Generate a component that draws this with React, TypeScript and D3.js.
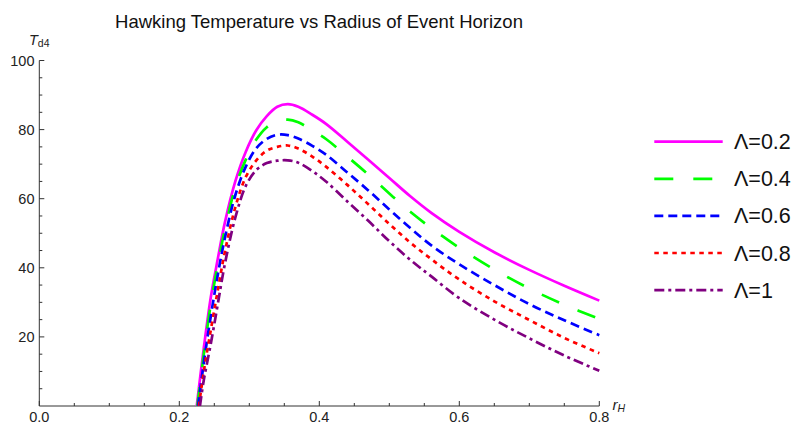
import React from "react";
import * as d3 from "d3";

// ---------- data ----------
const rGrid = [0.235, 0.245, 0.255, 0.265, 0.28, 0.295, 0.31, 0.325, 0.34, 0.355, 0.37, 0.39, 0.41, 0.44, 0.47, 0.5, 0.53, 0.56, 0.6, 0.65, 0.7, 0.75, 0.8];
const lambdaLabels = ["Λ=0.2", "Λ=0.4", "Λ=0.6", "Λ=0.8", "Λ=1"];
const horizonRoots = [0.2249, 0.2258, 0.2268, 0.228, 0.2295];
const tLambda02 = [16.8, 31.5, 42.6, 53.0, 65.0, 73.6, 79.8, 83.9, 86.6, 87.35, 86.6, 84.3, 81.6, 76.5, 71.3, 66.0, 60.7, 55.9, 50.4, 44.5, 39.4, 34.8, 30.5];
const tLambda04 = [15.0, 29.5, 41.0, 51.0, 63.3, 71.3, 77.1, 80.7, 82.5, 82.9, 82.1, 79.8, 77.2, 72.2, 67.0, 61.5, 56.2, 51.5, 45.8, 39.5, 34.0, 29.3, 25.2];
const tLambda06 = [12.5, 26.0, 38.0, 48.5, 61.0, 69.3, 74.6, 77.3, 78.5, 78.4, 77.4, 75.3, 72.7, 67.6, 62.4, 56.9, 51.5, 46.5, 41.0, 35.0, 29.5, 24.8, 20.5];
const tLambda08 = [10.0, 22.0, 33.5, 44.5, 57.5, 66.3, 71.1, 73.9, 75.0, 75.4, 74.5, 72.2, 69.2, 64.0, 58.4, 52.7, 47.3, 42.5, 36.6, 30.3, 24.9, 19.7, 15.3];
const tLambda10 = [7.5, 18.0, 29.5, 41.0, 54.5, 63.7, 68.3, 70.3, 71.0, 71.1, 70.4, 68.0, 64.9, 59.2, 53.6, 47.7, 42.3, 37.5, 31.2, 25.0, 19.6, 14.6, 10.2];
const seriesValues = [tLambda02, tLambda04, tLambda06, tLambda08, tLambda10];

const xTicks = [0, 0.2, 0.4, 0.6, 0.8];
const xTickLabels = ["0.0", "0.2", "0.4", "0.6", "0.8"];
const xMinorTicks = [0.05, 0.1, 0.15, 0.25, 0.3, 0.35, 0.45, 0.5, 0.55, 0.65, 0.7, 0.75];
const yTicks = [20, 40, 60, 80, 100];
const yMinorTicks = [5, 10, 15, 25, 30, 35, 45, 50, 55, 65, 70, 75, 85, 90, 95];

// ---------- styles ----------
const colors = ["#ff00ff", "#00ff00", "#0000ff", "#ff0000", "#800080"];
const dashes = ["none", "19,20", "9,5", "4.5,4.5", "10,4,3,4"];
const FONT = "'Liberation Sans', Arial, sans-serif";

export default function App() {
  const W = 793, H = 423;
  const x = d3.scaleLinear().domain([0, 0.8]).range([39.3, 599.3]);
  const y = d3.scaleLinear().domain([0, 100]).range([406, 60.5]);
  const line = d3
    .line<[number, number]>()
    .x((d) => x(d[0]))
    .y((d) => y(d[1]))
    .curve(d3.curveCatmullRom.alpha(0.5));

  const paths = seriesValues.map((vals, i) => {
    const pts: [number, number][] = [[horizonRoots[i], 0], ...rGrid.map((r, j) => [r, vals[j]] as [number, number])];
    return line(pts) || "";
  });

  const axisColor = "#333";
  const x0 = x(0), y0 = y(0);

  return (
    <div style={{ position: "absolute", left: 0, top: 0 }}>
      <svg width={W} height={H} style={{ display: "block", background: "#fff" }}>
        <defs>
          <clipPath id="plotClip">
            <rect x={x0} y={y(100)} width={x(0.8) - x0 + 1.5} height={y0 - y(100)} />
          </clipPath>
        </defs>
        {/* title */}
        <text x={319} y={28} textAnchor="middle" fontFamily={FONT} fontSize={18.5} fill="#111">
          Hawking Temperature vs Radius of Event Horizon
        </text>

        {/* axes */}
        <line x1={x0} y1={y0} x2={x(0.8)} y2={y0} stroke={axisColor} strokeWidth={1} />
        <line x1={x0} y1={y0} x2={x0} y2={y(100)} stroke={axisColor} strokeWidth={1} />
        {xTicks.map((t) => (
          <line key={"xt" + t} x1={x(t)} x2={x(t)} y1={y0} y2={y0 - 5} stroke={axisColor} />
        ))}
        {xMinorTicks.map((t) => (
          <line key={"xm" + t} x1={x(t)} x2={x(t)} y1={y0} y2={y0 - 3} stroke={axisColor} />
        ))}
        {yTicks.map((t) => (
          <line key={"yt" + t} x1={x0} x2={x0 + 5} y1={y(t)} y2={y(t)} stroke={axisColor} />
        ))}
        {yMinorTicks.map((t) => (
          <line key={"ym" + t} x1={x0} x2={x0 + 3} y1={y(t)} y2={y(t)} stroke={axisColor} />
        ))}
        {xTicks.map((t, i) => (
          <text key={"xl" + t} x={x(t)} y={421.5} textAnchor="middle" fontFamily={FONT} fontSize={14.5} fill="#222">
            {xTickLabels[i]}
          </text>
        ))}
        {yTicks.map((t) => (
          <text key={"yl" + t} x={34.5} y={y(t) + 5} textAnchor="end" fontFamily={FONT} fontSize={14.5} fill="#222">
            {t}
          </text>
        ))}
        {/* axis labels */}
        <text x={29} y={45} fontFamily={FONT} fontSize={14.5} fill="#222">
          <tspan fontStyle="italic">T</tspan>
          <tspan fontSize={10.5} dy={2}>d4</tspan>
        </text>
        <text x={612.5} y={409.5} fontFamily={FONT} fontSize={15} fill="#222">
          <tspan fontStyle="italic">r</tspan>
          <tspan fontStyle="italic" fontSize={10.5} dy={2.5}>H</tspan>
        </text>

        {/* curves */}
        <g clipPath="url(#plotClip)">
          {paths.map((d, i) => (
            <path
              key={"c" + i}
              d={d}
              fill="none"
              stroke={colors[i]}
              strokeWidth={2.7}
              strokeDasharray={dashes[i]}
              strokeLinecap="butt"
            />
          ))}
        </g>

        {/* legend */}
        {lambdaLabels.map((lab, i) => {
          const ly = 141.7 + i * 37.1;
          return (
            <g key={"lg" + i}>
              <line x1={654.3} x2={722.7} y1={ly} y2={ly} stroke={colors[i]} strokeWidth={2.7} strokeDasharray={dashes[i]} />
              <text x={734} y={ly + 7.5} fontFamily={FONT} fontSize={21.5} fill="#111">
                {lab}
              </text>
            </g>
          );
        })}
      </svg>
    </div>
  );
}
